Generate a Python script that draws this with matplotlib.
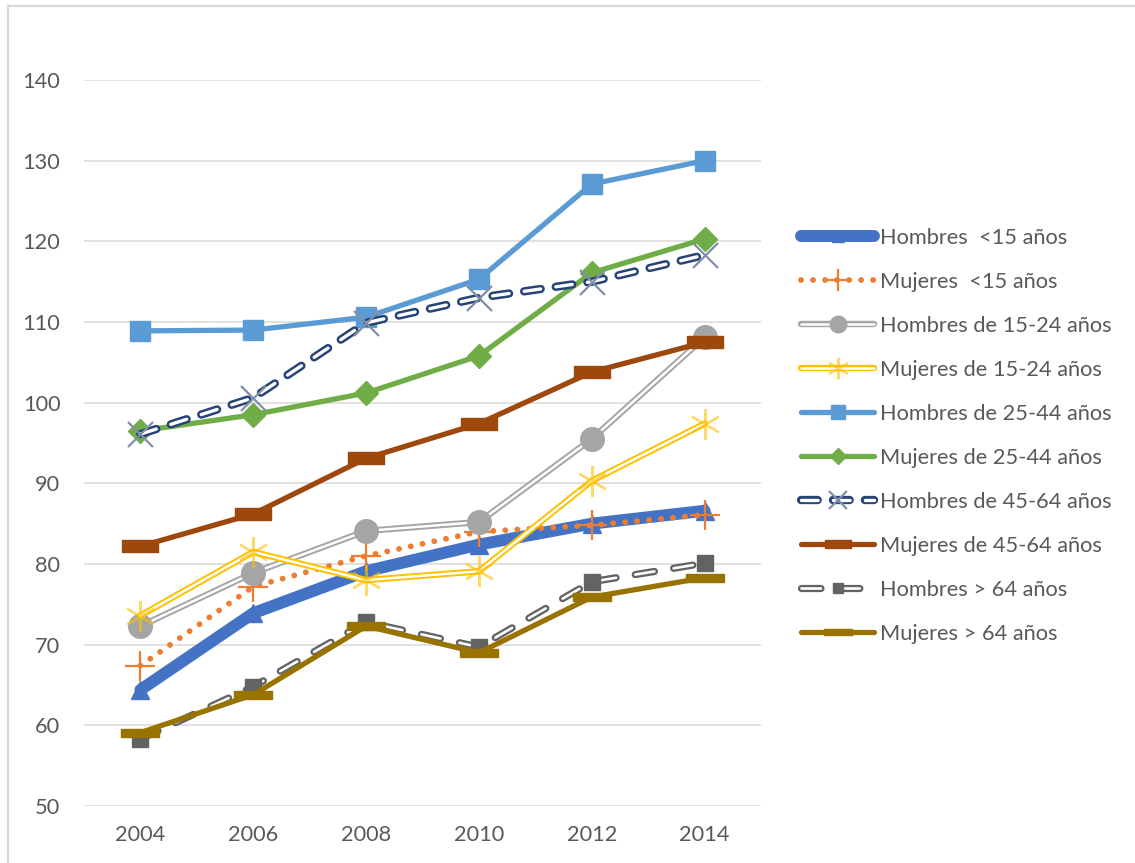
import matplotlib
matplotlib.use("Agg")
import matplotlib.pyplot as plt
import matplotlib.lines as mlines
from matplotlib.legend_handler import HandlerTuple

# data
years = ['2004', '2006', '2008', '2010', '2012', '2014']
hombres_menos15 = [64.4, 73.9, 79.1, 82.4, 85.0, 86.6]
mujeres_menos15 = [67.4, 77.2, 81.0, 84.0, 84.8, 86.1]
hombres_15_24 = [72.3, 78.9, 84.1, 85.2, 95.5, 108.1]
mujeres_15_24 = [73.6, 81.5, 78.0, 79.1, 90.3, 97.4]
hombres_25_44 = [108.9, 109.0, 110.6, 115.3, 127.1, 130.0]
mujeres_25_44 = [96.5, 98.5, 101.2, 105.8, 116.1, 120.3]
hombres_45_64 = [96.1, 100.6, 109.9, 113.0, 115.0, 118.3]
mujeres_45_64 = [82.2, 86.2, 93.1, 97.4, 103.8, 107.5]
hombres_mas64 = [58.3, 64.8, 72.8, 69.7, 77.8, 80.1]
mujeres_mas64 = [59.1, 63.8, 72.3, 69.0, 75.9, 78.3]

labels = ['Hombres  <15 años', 'Mujeres  <15 años', 'Hombres de 15-24 años',
          'Mujeres de 15-24 años', 'Hombres de 25-44 años', 'Mujeres de 25-44 años',
          'Hombres de 45-64 años', 'Mujeres de 45-64 años', 'Hombres > 64 años',
          'Mujeres > 64 años']

plt.rcParams['font.family'] = ['Lato', 'DejaVu Sans']
plt.rcParams['lines.scale_dashes'] = False

TXT = '#595959'
GRID = '#D9D9D9'
FS = 15.7

fig = plt.figure(figsize=(11.35, 8.63), dpi=100)
ax = fig.add_axes([84 / 1135, 1 - 806 / 863, (761 - 84) / 1135, (806 - 80) / 863])
x = list(range(len(years)))

rect_mk = [(-1, -0.35), (1, -0.35), (1, 0.35), (-1, 0.35), (-1, -0.35)]
flat_mk = [(-1, -0.22), (1, -0.22), (1, 0.22), (-1, 0.22), (-1, -0.22)]


def draw_series(y, color, lw, z, inner=None, dashes=None, marker=None, ms=10,
                mfc=None, mec=None, mew=1.0, malpha=1.0):
    kw = {'dashes': dashes} if dashes else {}
    arts = []
    outer, = ax.plot(x, y, color=color, lw=lw, solid_capstyle='round',
                     dash_capstyle='round', solid_joinstyle='round', zorder=z, **kw)
    arts.append(outer)
    if inner:
        inn, = ax.plot(x, y, color='white', lw=inner, solid_capstyle='round',
                       dash_capstyle='round', solid_joinstyle='round',
                       zorder=z + 0.1, **kw)
        arts.append(inn)
    if marker is not None:
        mk, = ax.plot(x, y, ls='none', marker=marker, ms=ms,
                      mfc=mfc if mfc else color, mec=mec if mec else color,
                      mew=mew, alpha=malpha, zorder=z + 0.2)
        arts.append(mk)
    return tuple(arts)


handles = []
handles.append(draw_series(hombres_menos15, '#4472C4', 8.6, 2, marker='^', ms=13))
handles.append(draw_series(mujeres_menos15, '#ED7D31', 4.2, 3, dashes=(0.05, 8.6),
                           marker='+', ms=22, mew=1.6))
handles.append(draw_series(hombres_15_24, '#A5A5A5', 4.6, 4, inner=1.8,
                           marker='o', ms=17))
handles.append(draw_series(mujeres_15_24, '#FFC000', 4.6, 5, inner=1.8,
                           marker=(6, 2, 0), ms=22, mec='#FFC000', mew=1.6, malpha=0.6))
handles.append(draw_series(hombres_25_44, '#5B9BD5', 3.8, 6, marker='s', ms=14))
handles.append(draw_series(mujeres_25_44, '#70AD47', 3.8, 7, marker='D', ms=12))
handles.append(draw_series(hombres_45_64, '#264478', 6.0, 8, inner=2.4, dashes=(12, 11),
                           marker='x', ms=18, mec='#7F8FA9', mew=1.6))
handles.append(draw_series(mujeres_45_64, '#9E480E', 3.8, 9, marker=rect_mk, ms=26))
handles.append(draw_series(hombres_mas64, '#636363', 5.2, 10, inner=1.9, dashes=(14, 14),
                           marker='s', ms=11))
handles.append(draw_series(mujeres_mas64, '#997300', 3.8, 11, marker=flat_mk, ms=28))

ax.set_xlim(-0.5, len(years) - 0.5)
ax.set_ylim(50, 140)
ax.set_yticks(range(50, 141, 10))
ax.set_xticks(x)
ax.set_xticklabels(years)
ax.grid(axis='y', color=GRID, lw=1.1)
ax.set_axisbelow(True)
for s in ax.spines.values():
    s.set_visible(False)
ax.tick_params(axis='both', length=0, labelsize=FS, labelcolor=TXT)
ax.tick_params(axis='y', pad=17)
ax.tick_params(axis='x', pad=14)

leg = fig.legend(handles, labels, loc='center left',
                 bbox_to_anchor=(801 / 1135, 1 - 436 / 863), bbox_transform=fig.transFigure,
                 frameon=False, fontsize=FS, handlelength=3.35, handletextpad=0.28,
                 labelspacing=1.1, borderpad=0, borderaxespad=0, markerscale=0.7,
                 handler_map={tuple: HandlerTuple(ndivide=1, pad=0)})
for t in leg.get_texts():
    t.set_color(TXT)

# chart frame
fig.add_artist(mlines.Line2D([7.5 / 1135, 7.5 / 1135], [0, 1 - 6 / 863],
                             transform=fig.transFigure, color=GRID, lw=1.6))
fig.add_artist(mlines.Line2D([7.5 / 1135, 1], [1 - 6 / 863, 1 - 6 / 863],
                             transform=fig.transFigure, color=GRID, lw=1.6))

fig.savefig('out.png', dpi=100)
